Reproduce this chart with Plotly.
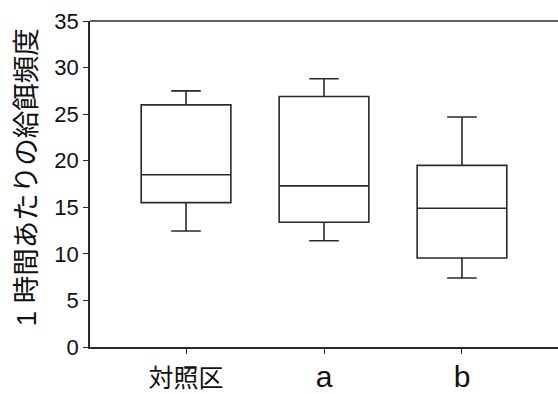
import plotly.graph_objects as go

categories = ["対照区", "a", "b"]
lower_whisker = [12.45, 11.4, 7.4]
q1_values = [15.5, 13.4, 9.55]
medians = [18.5, 17.3, 14.9]
q3_values = [26.0, 26.9, 19.5]
upper_whisker = [27.5, 28.8, 24.7]
y_ticks = [0, 5, 10, 15, 20, 25, 30, 35]
y_title = "1 時間あたりの給餌頻度"
tick_labels = [
    "<span style='font-size:25px'>対照区</span>",
    "<span style='font-size:30px'>a</span>",
    "<span style='font-size:30px'>b</span>",
]

FONT = "Liberation Sans, Arial, 'Noto Sans CJK JP', sans-serif"
x_pos = list(range(len(categories)))

fig = go.Figure()
fig.add_trace(go.Box(
    x=x_pos,
    q1=q1_values, median=medians, q3=q3_values,
    lowerfence=lower_whisker, upperfence=upper_whisker,
    width=0.65, whiskerwidth=0.33,
    fillcolor="white",
    line=dict(color="#2a2a2a", width=1.6),
    boxpoints=False, showlegend=False, hoverinfo="skip",
))

fig.update_layout(
    width=558, height=394,
    margin=dict(l=90, r=0, t=21, b=47),
    paper_bgcolor="white", plot_bgcolor="white",
    font=dict(family=FONT, color="#111"),
    xaxis=dict(
        range=[-0.696, 2.696], tickmode="array", tickvals=x_pos, ticktext=tick_labels,
        showgrid=False, zeroline=False, showline=True, linecolor="#2a2a2a", linewidth=1.6,
        ticks="outside", ticklen=5, tickwidth=1.2, tickcolor="#2a2a2a",
        ticklabelstandoff=3, automargin=False,
        tickfont=dict(family=FONT, size=25, color="#111"),
    ),
    yaxis=dict(
        range=[0, 35], tickmode="array", tickvals=y_ticks,
        showgrid=False, zeroline=False, showline=True, linecolor="#2a2a2a", linewidth=1.6,
        ticks="outside", ticklen=5, tickwidth=1.2, tickcolor="#2a2a2a",
        automargin=False,
        tickfont=dict(family=FONT, size=22, color="#111"),
    ),
    shapes=[dict(type="line", xref="paper", yref="paper", x0=0, x1=1, y0=1, y1=1,
                 line=dict(color="#2a2a2a", width=1.6))],
    annotations=[dict(
        text=y_title, textangle=-90, showarrow=False,
        xref="paper", yref="paper", x=-0.1368, y=0.521,
        xanchor="center", yanchor="middle",
        font=dict(family=FONT, size=27.5, color="#111"),
    )],
)

fig.write_html(
    "out.html",
    config={"displayModeBar": False},
    post_script="document.body.style.margin='0';document.body.style.overflow='hidden';",
)
